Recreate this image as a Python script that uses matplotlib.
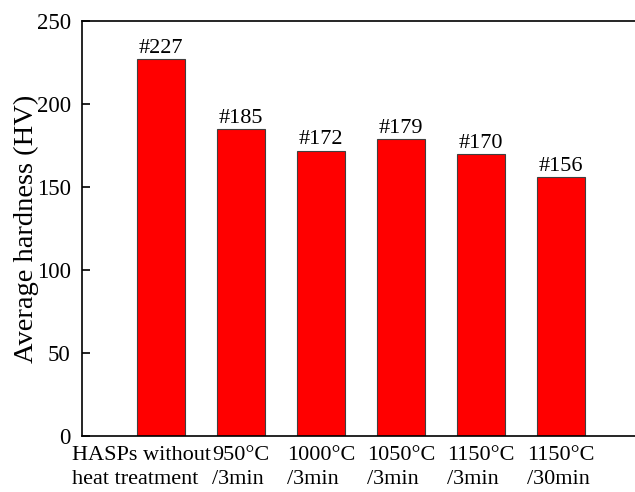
import matplotlib
matplotlib.use("Agg")
import matplotlib.pyplot as plt
import matplotlib.transforms as mtransforms

# data
labels = ["HASPs without\nheat treatment", "950°C\n/3min", "1000°C\n/3min",
          "1050°C\n/3min", "1150°C\n/3min", "1150°C\n/30min"]
hardness = [227, 185, 172, 179, 170, 156]

plt.rcParams['font.family'] = ['Liberation Serif', 'DejaVu Serif']

fig = plt.figure(figsize=(6.35, 4.92), dpi=100)
ax = fig.add_axes([0.129, 0.1138, 0.880, 0.843])

x = range(len(hardness))
bars = ax.bar(x, hardness, width=0.6, color='#ff0000', edgecolor='#404040', linewidth=0.8)
ax.bar_label(bars, labels=["#%d" % v for v in hardness], padding=1, fontsize=16)

ax.set_xlim(-0.99, 6.0)
ax.set_ylim(0, 250)
ax.set_yticks([0, 50, 100, 150, 200, 250])
ax.set_xticks(list(x))
ax.set_xticklabels(labels, fontsize=16, linespacing=1.35, multialignment='left')
ax.tick_params(axis='x', length=0, pad=7)
ax.tick_params(axis='y', direction='in', length=6, width=1.2, labelsize=16.5, pad=8)
ax.set_ylabel("Average hardness (HV)", fontsize=20.5, labelpad=-2)
for s in ax.spines.values():
    s.set_linewidth(1.2)

# first label sits left of its bar in the original
first = ax.get_xticklabels()[0]
first.set_transform(first.get_transform() +
                    mtransforms.ScaledTranslation(-0.2, 0, fig.dpi_scale_trans))

fig.savefig("out.png", dpi=100)
